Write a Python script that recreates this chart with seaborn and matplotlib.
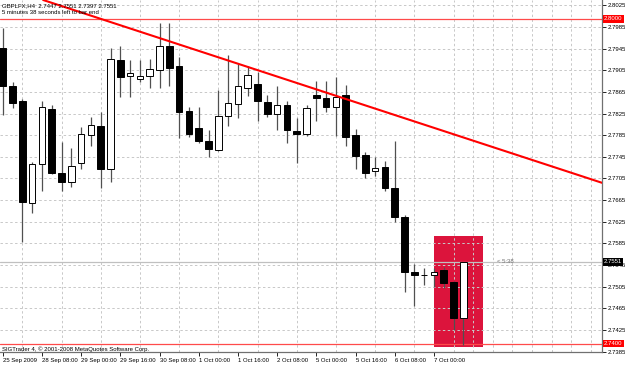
import matplotlib
matplotlib.use("Agg")
import matplotlib.pyplot as plt
import seaborn as sns
import numpy as np
import pandas as pd
from matplotlib import font_manager
from matplotlib.patches import Rectangle
from matplotlib.transforms import blended_transform_factory

# ---------------- data ----------------
time_labels = ["25 Sep 2009", "28 Sep 08:00", "29 Sep 00:00", "29 Sep 16:00",
               "30 Sep 08:00", "1 Oct 00:00", "1 Oct 16:00", "2 Oct 08:00",
               "5 Oct 00:00", "5 Oct 16:00", "6 Oct 08:00", "7 Oct 00:00"]
label_bars = [0, 4, 8, 12, 16, 20, 24, 28, 32, 36, 40, 44]

opens = [2.7946, 2.7876, 2.7849, 2.7659, 2.7731, 2.7833, 2.7716, 2.7699, 2.7734, 2.7785,
         2.7802, 2.7722, 2.7924, 2.7894, 2.7889, 2.7894, 2.7905, 2.7950, 2.7912, 2.7830,
         2.7798, 2.7774, 2.7758, 2.7821, 2.7842, 2.7872, 2.7879, 2.7847, 2.7825, 2.7841,
         2.7793, 2.7788, 2.7859, 2.7854, 2.7837, 2.7859, 2.7785, 2.7748, 2.7719, 2.7727,
         2.7688, 2.7634, 2.7532, 2.7527, 2.7526, 2.7536, 2.7514, 2.7447]
highs = [2.7983, 2.7884, 2.7852, 2.7736, 2.7848, 2.7841, 2.7773, 2.7762, 2.7801, 2.7819,
         2.7827, 2.7947, 2.7950, 2.7924, 2.7924, 2.7925, 2.7992, 2.7992, 2.7930, 2.7838,
         2.7838, 2.7795, 2.7868, 2.7933, 2.7917, 2.7912, 2.7901, 2.7859, 2.7876, 2.7849,
         2.7816, 2.7841, 2.7885, 2.7885, 2.7892, 2.7878, 2.7796, 2.7754, 2.7745, 2.7738,
         2.7774, 2.7638, 2.7547, 2.7540, 2.7539, 2.7541, 2.7515, 2.7551]
lows = [2.7822, 2.7836, 2.7588, 2.7642, 2.7682, 2.7714, 2.7682, 2.7690, 2.7722, 2.7765,
        2.7687, 2.7698, 2.7855, 2.7856, 2.7883, 2.7872, 2.7873, 2.7876, 2.7779, 2.7781,
        2.7771, 2.7745, 2.7756, 2.7802, 2.7816, 2.7857, 2.7812, 2.7818, 2.7794, 2.7770,
        2.7734, 2.7783, 2.7812, 2.7827, 2.7783, 2.7765, 2.7722, 2.7706, 2.7710, 2.7682,
        2.7625, 2.7496, 2.7470, 2.7508, 2.7505, 2.7502, 2.7425, 2.7397]
closes = [2.7876, 2.7845, 2.7661, 2.7731, 2.7838, 2.7716, 2.7699, 2.7729, 2.7787, 2.7804,
          2.7722, 2.7925, 2.7893, 2.7900, 2.7894, 2.7907, 2.7950, 2.7910, 2.7827, 2.7788,
          2.7774, 2.7759, 2.7820, 2.7844, 2.7876, 2.7896, 2.7848, 2.7825, 2.7840, 2.7795,
          2.7788, 2.7836, 2.7853, 2.7838, 2.7856, 2.7782, 2.7747, 2.7716, 2.7724, 2.7687,
          2.7634, 2.7533, 2.7527, 2.7527, 2.7533, 2.7512, 2.7448, 2.7551]

price_ticks = [2.7385, 2.7425, 2.7465, 2.7505, 2.7545, 2.7585, 2.7625, 2.7665, 2.7705,
               2.7745, 2.7785, 2.7825, 2.7865, 2.7905, 2.7945, 2.7985, 2.8025]
trend_x = [10, 62]
trend_y = [2.8000, 2.7692]
level_lines = [2.8000, 2.7400]
bid_price = 2.7551
box_x = [44, 49]
box_y = [2.7394, 2.7599]

title_line1 = "GBPLFX,H4  2.7447 2.7551 2.7397 2.7551"
title_line2 = "5 minutes 38 seconds left to bar end"
copyright_text = "SIGTrader 4, \u00a9 2001-2008 MetaQuotes Software Corp."
timer_text = "< 5:38"

# ---------------- style ----------------
sns.set_style("white")
avail = {f.name for f in font_manager.fontManager.ttflist}
narrow = "Liberation Sans Narrow" if "Liberation Sans Narrow" in avail else "Liberation Sans"
plt.rcParams["font.family"] = [narrow, "DejaVu Sans"]
FS = 5.0 if narrow == "Liberation Sans Narrow" else 4.3

fig = plt.figure(figsize=(6.25, 3.65), dpi=100)
ax = fig.add_axes([0, 13 / 365, 602 / 625, 352 / 365])

df = pd.DataFrame(dict(bar=np.arange(len(opens)), open=opens, high=highs,
                       low=lows, close=closes))
df["bull"] = df["close"] >= df["open"]
df["bottom"] = df[["open", "close"]].min(axis=1)
df["height"] = (df["close"] - df["open"]).abs()

# background rectangle
ax.add_patch(Rectangle((box_x[0], box_y[0]), box_x[1] - box_x[0], box_y[1] - box_y[0],
                       facecolor="#DC143C", edgecolor="none", zorder=1))

# level lines & bid line
for lv in level_lines:
    ax.axhline(lv, color="#FF4A4A", lw=0.9, zorder=2)
ax.axhline(bid_price, color="#C0C0C0", lw=0.9, zorder=2)

# wicks
ax.vlines(df["bar"], df["low"], df["high"], color="#505050", lw=0.9, zorder=3)
# bodies
ax.bar(df["bar"], df["height"], bottom=df["bottom"], width=0.66,
       color=np.where(df["bull"], "white", "black"), edgecolor="black",
       linewidth=0.7, zorder=4)

# trend line
ax.axline((trend_x[0], trend_y[0]), (trend_x[1], trend_y[1]), color="#FF0000",
          lw=1.5, zorder=5)

# axes limits
ax.set_xlim(-0.276, 61.15)
ax.set_ylim(2.73844, 2.80348)

# grid
ax.set_axisbelow("line")
ax.set_xticks(label_bars)
ax.set_xticklabels(time_labels, ha="left")
ax.set_xticks(np.arange(0, 62, 2), minor=True)
ax.set_yticks(price_ticks)
ax.set_yticklabels([f"{t:.4f}" for t in price_ticks])
gs = dict(color="#C8C8C8", linestyle=(0, (2.5, 2.5)), linewidth=0.7)
ax.grid(False)
ax.xaxis.grid(True, which="minor", **gs)
ax.yaxis.grid(True, which="major", **gs)

ax.yaxis.tick_right()
ax.tick_params(axis="y", which="major", direction="out", length=3, width=0.6,
               pad=1.2, labelsize=FS, colors="black", right=True, left=False)
ax.tick_params(axis="x", which="major", direction="out", length=3, width=0.6,
               pad=1.0, labelsize=FS, colors="black", bottom=True)
ax.tick_params(axis="x", which="minor", length=0)

for s in ["left", "top"]:
    ax.spines[s].set_visible(False)
for s in ["right", "bottom"]:
    ax.spines[s].set_color("#707070")
    ax.spines[s].set_linewidth(0.9)

# right price labels
trans = blended_transform_factory(ax.transAxes, ax.transData)
for lv in level_lines:
    ax.text(1.003, lv, f"{lv:.4f}", transform=trans, ha="left", va="center",
            color="white", fontsize=FS,
            bbox=dict(boxstyle="square,pad=0.2", fc="#FF0000", ec="none"),
            clip_on=False, zorder=10)
ax.text(1.003, bid_price, f"{bid_price:.4f}", transform=trans, ha="left", va="center",
        color="white", fontsize=FS,
        bbox=dict(boxstyle="square,pad=0.2", fc="black", ec="none"),
        clip_on=False, zorder=10)

# texts
ax.text(0.004, 1 - 5.5 / 352, title_line1, transform=ax.transAxes, ha="left",
        va="center", fontsize=FS, color="black", zorder=11)
ax.text(0.004, 1 - 13 / 352, title_line2, transform=ax.transAxes, ha="left",
        va="center", fontsize=FS, color="black", zorder=11)
ax.text(0.004, 2.5 / 352, copyright_text, transform=ax.transAxes, ha="left",
        va="center", fontsize=FS, color="black", zorder=11)
ax.text(50.4, bid_price, timer_text, ha="left", va="center", fontsize=FS,
        color="#707070", zorder=11)

fig.savefig("out.png", dpi=100)
